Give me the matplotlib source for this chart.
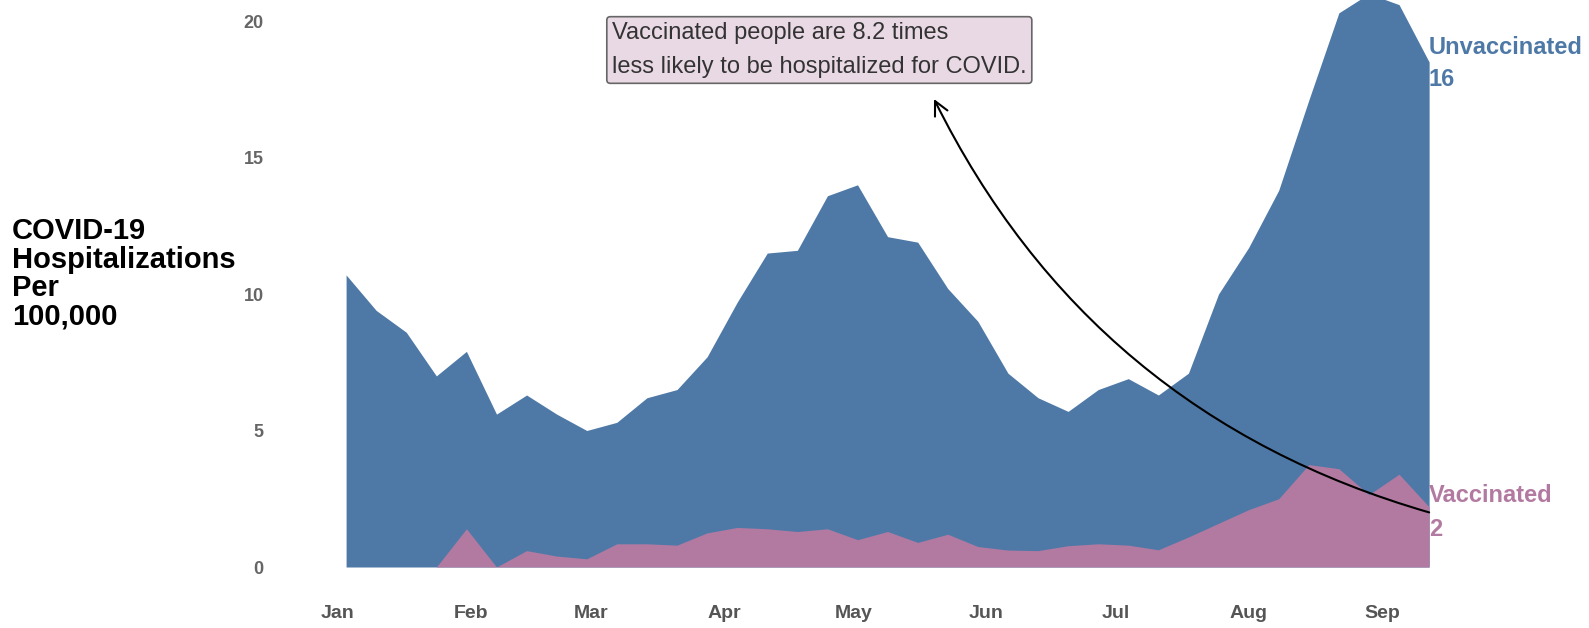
import matplotlib
matplotlib.use('Agg')
import matplotlib.pyplot as plt
import matplotlib.dates as mdates
import pandas as pd

plt.rcParams['font.family'] = ['Liberation Sans', 'DejaVu Sans']

# weekly rates per 100,000
weeks = pd.date_range('2021-01-03', periods=37, freq='7D')
unvaccinated = [10.7, 9.4, 8.6, 7.0, 7.9, 5.6, 6.3, 5.6, 5.0, 5.3,
                6.2, 6.5, 7.7, 9.7, 11.5, 11.6, 13.6, 14.0, 12.1, 11.9,
                10.2, 9.0, 7.1, 6.2, 5.7, 6.5, 6.9, 6.3, 7.1, 10.0,
                11.7, 13.8, 17.1, 20.3, 21.0, 20.6, 18.5]
vaccinated = [0, 0, 0, 0, 1.4, 0, 0.6, 0.4, 0.3, 0.85,
              0.85, 0.8, 1.25, 1.45, 1.4, 1.3, 1.4, 1.0, 1.3, 0.9,
              1.2, 0.75, 0.62, 0.6, 0.78, 0.85, 0.8, 0.63, 1.1, 1.6,
              2.1, 2.5, 3.75, 3.6, 2.65, 3.4, 2.2]
month_ticks = pd.date_range('2021-01-01', '2021-09-01', freq='MS')
y_ticks = [0, 5, 10, 15, 20]

blue = '#4e79a7'
pink = '#b27aa1'

W, H = 1589, 628
fig = plt.figure(figsize=(W / 100, H / 100), dpi=100)
ax = fig.add_axes([290 / W, 61 / H, (W - 290) / W, 567 / H])

ax.fill_between(weeks, 0, unvaccinated, color=blue, lw=0)
ax.fill_between(weeks, 0, vaccinated, color=pink, lw=0)

base = mdates.date2num(pd.Timestamp('2021-01-01'))
ax.set_xlim(base - 11.05, base + 291.2)
ax.set_ylim(0, 20.77)

ax.set_xticks(month_ticks)
ax.xaxis.set_major_formatter(mdates.DateFormatter('%b'))
ax.set_yticks(y_ticks)
ax.tick_params(axis='y', length=0, pad=19, labelsize=13, labelcolor='#666')
ax.tick_params(axis='x', length=0, pad=27, labelsize=14, labelcolor='#555')
for lab in ax.get_xticklabels() + ax.get_yticklabels():
    lab.set_fontweight('bold')
for s in ax.spines.values():
    s.set_visible(False)

fig.text(12 / W, 1 - 217 / H, 'COVID-19\nHospitalizations\nPer\n100,000',
         ha='left', va='top', fontsize=21, fontweight='bold', linespacing=1.03)

fig.text(612 / W, 1 - 50 / H,
         'Vaccinated people are 8.2 times\nless likely to be hospitalized for COVID.',
         ha='left', va='center', fontsize=17, color='#333', linespacing=1.72,
         bbox=dict(boxstyle='round,pad=0.22,rounding_size=0.15',
                   facecolor='#e9d9e5', edgecolor='#666', lw=1.2))

fig.text(1429 / W, 1 - 47 / H, 'Unvaccinated', color=blue, fontsize=17,
         fontweight='bold', va='center', ha='left')
fig.text(1429 / W, 1 - 80 / H, '16', color=blue, fontsize=17,
         fontweight='bold', va='center', ha='left')
fig.text(1429 / W, 1 - 495 / H, 'Vaccinated', color=pink, fontsize=17,
         fontweight='bold', va='center', ha='left')
fig.text(1429 / W, 1 - 530 / H, '2', color=pink, fontsize=17,
         fontweight='bold', va='center', ha='left')

ax.annotate('', xy=(934, H - 99), xycoords='figure pixels',
            xytext=(weeks[-1], 2.0), textcoords='data',
            arrowprops=dict(arrowstyle='->', connectionstyle='arc3,rad=-0.22',
                            color='black', lw=1.5, mutation_scale=25,
                            shrinkA=0, shrinkB=0),
            annotation_clip=False)

fig.savefig('out.png', dpi=100)
